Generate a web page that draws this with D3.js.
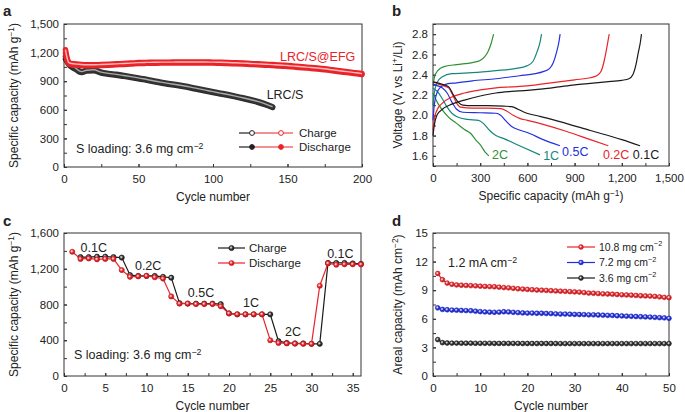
<!DOCTYPE html>
<html>
<head>
<meta charset="utf-8">
<script src="https://cdn.jsdelivr.net/npm/d3@7"></script>
<style>
  body { margin: 0; background: #fff; }
  text { font-family: "Liberation Sans", Arial, Helvetica, sans-serif; fill: #222; }
</style>
</head>
<body>
<svg id="fig" width="685" height="412"></svg>
<script>
// ---------- panel a : long cycling ----------
var cycEFG = [1,2,3,5,10,15,20,25,30,35,40,45,50,55,60,65,70,75,80,85,90,95,100,
              105,110,115,120,125,130,135,140,145,150,155,160,165,170,175,180,185,190,195,200];
var efgCharge = [1230,1150,1100,1085,1078,1072,1072,1075,1078,1082,1086,1090,1095,1097,1098,1100,1100,1101,1102,1102,1102,1101,1100,
                 1098,1096,1093,1090,1086,1082,1078,1074,1070,1064,1058,1052,1045,1038,1030,1020,1010,1000,990,980];
var efgDischarge = [1195,1120,1085,1072,1066,1062,1062,1065,1068,1072,1076,1080,1085,1087,1088,1090,1090,1091,1092,1092,1092,1091,1090,
                    1088,1086,1083,1080,1076,1072,1068,1064,1060,1054,1048,1042,1035,1028,1020,1010,1000,990,980,970];
var cycLRC = [1,2,3,5,8,10,12,15,20,25,30,35,40,45,50,55,60,65,70,75,80,85,90,95,100,105,110,115,120,125,130,135,140];
var lrcCharge = [1160,1130,1100,1065,1035,1010,1000,1015,1020,995,982,972,960,948,935,920,905,890,877,865,852,838,822,806,790,775,760,744,727,708,688,662,632];
var lrcDischarge = [1130,1105,1080,1050,1022,1000,992,1006,1010,986,973,963,951,939,926,911,896,881,868,856,843,829,813,797,781,766,751,735,718,699,679,653,624];

// ---------- panel b : voltage profiles [capacity, voltage] ----------
var rates = ["0.1C", "0.2C", "0.5C", "1C", "2C"];
var rateColors = ["#1a1a1a", "#e8242a", "#2330df", "#16877f", "#2f9134"];
var charge01 = [[0,1.80],[8,1.90],[25,2.00],[60,2.06],[120,2.11],[200,2.15],[300,2.19],[400,2.22],[500,2.235],[600,2.245],[700,2.26],[800,2.28],[900,2.30],[1000,2.315],[1100,2.33],[1200,2.345],[1245,2.36],[1270,2.40],[1290,2.50],[1305,2.62],[1318,2.72],[1325,2.80]];
var charge02 = [[0,1.85],[8,1.96],[25,2.05],[60,2.12],[120,2.18],[200,2.22],[300,2.25],[400,2.27],[500,2.28],[600,2.29],[700,2.31],[800,2.33],[900,2.35],[1000,2.37],[1040,2.39],[1070,2.44],[1090,2.55],[1105,2.67],[1120,2.80]];
var charge05 = [[0,1.95],[8,2.10],[25,2.22],[50,2.28],[90,2.31],[150,2.32],[250,2.34],[400,2.36],[550,2.39],[650,2.41],[700,2.43],[740,2.46],[765,2.52],[785,2.62],[800,2.72],[808,2.80]];
var charge1 = [[0,2.10],[8,2.22],[25,2.32],[60,2.38],[120,2.41],[250,2.42],[400,2.44],[520,2.46],[600,2.49],[635,2.53],[660,2.62],[680,2.72],[690,2.80]];
var charge2 = [[0,2.30],[10,2.38],[30,2.44],[70,2.48],[150,2.50],[250,2.52],[300,2.54],[330,2.58],[350,2.63],[370,2.71],[385,2.80]];
var discharge01 = [[0,2.33],[30,2.32],[70,2.30],[100,2.28],[130,2.20],[160,2.13],[190,2.10],[250,2.095],[350,2.095],[450,2.09],[500,2.085],[540,2.06],[580,2.03],[620,2.01],[680,1.99],[800,1.94],[1000,1.85],[1200,1.76],[1316,1.70]];
var discharge02 = [[0,2.33],[30,2.31],[70,2.29],[100,2.27],[125,2.20],[150,2.12],[175,2.08],[250,2.07],[350,2.07],[430,2.065],[470,2.04],[510,2.00],[550,1.97],[600,1.95],[700,1.91],[850,1.84],[1000,1.76],[1114,1.70]];
var discharge05 = [[0,2.31],[30,2.29],[60,2.27],[90,2.22],[120,2.13],[150,2.06],[190,2.03],[300,2.025],[400,2.02],[430,2.00],[460,1.95],[500,1.89],[540,1.86],[600,1.83],[700,1.76],[807,1.70]];
var discharge1 = [[0,2.27],[30,2.23],[60,2.16],[90,2.08],[120,2.02],[160,1.98],[220,1.96],[290,1.95],[320,1.92],[360,1.85],[400,1.80],[450,1.77],[550,1.70],[680,1.61]];
var discharge2 = [[0,2.22],[30,2.12],[60,2.05],[100,1.98],[150,1.92],[200,1.86],[240,1.82],[270,1.76],[300,1.71],[330,1.64],[355,1.60]];
var chargeCurves = [charge01, charge02, charge05, charge1, charge2];
var dischargeCurves = [discharge01, discharge02, discharge05, discharge1, discharge2];
// label anchor (capacity, voltage) for each rate
var rateLabelPos = [[1270,1.565],[1080,1.565],[820,1.595],[700,1.56],[375,1.565]];

// ---------- panel c : rate capability ----------
var cycC = d3.range(1, 37);
var rateCharge = [null,1330,1330,1335,1335,1330,1325,1130,1120,1120,1120,1110,1100,815,810,810,810,810,805,700,690,690,690,690,690,390,370,365,365,360,360,1265,1265,1265,1260,1255];
var rateDischarge = [1390,1310,1315,1305,1310,1310,1185,1110,1115,1120,1105,1090,890,810,810,805,805,805,780,700,690,690,690,690,400,370,365,362,360,360,1010,1260,1245,1250,1250,1248];
var rateSteps = ["0.1C","0.2C","0.5C","1C","2C","0.1C"];
var rateStepPos = [[2.0,1390],[8.6,1190],[15.0,885],[21.7,770],[26.8,445],[31.9,1320]];

// ---------- panel d : areal capacity ----------
var cycD = d3.range(1, 51);
var loadings = ["10.8 mg cm", "7.2 mg cm", "3.6 mg cm"];
var loadColors = ["#e8242a", "#2330df", "#1a1a1a"];
var areal108 = [10.75,10.10,9.75,9.62,9.55,9.52,9.50,9.48,9.46,9.42,9.40,9.38,9.36,9.32,9.28,9.25,9.20,9.15,9.12,9.08,
                9.05,9.02,9.00,8.98,8.95,8.92,8.90,8.88,8.85,8.82,8.80,8.75,8.70,8.68,8.65,8.62,8.60,8.58,8.55,8.52,
                8.50,8.48,8.45,8.42,8.40,8.38,8.35,8.30,8.25,8.22];
var areal72 = [7.15,6.98,6.95,6.92,6.90,6.88,6.86,6.85,6.80,6.75,6.72,6.70,6.68,6.70,6.74,6.72,6.68,6.65,6.62,6.60,
               6.60,6.58,6.58,6.56,6.55,6.52,6.50,6.50,6.48,6.46,6.45,6.44,6.42,6.42,6.40,6.38,6.36,6.35,6.32,6.30,
               6.28,6.26,6.24,6.22,6.20,6.18,6.15,6.12,6.10,6.05];
var areal36 = [3.82,3.50,3.46,3.45,3.45,3.44,3.44,3.44,3.43,3.43,3.43,3.43,3.42,3.42,3.42,3.42,3.42,3.42,3.41,3.41,
               3.41,3.41,3.41,3.41,3.41,3.41,3.40,3.40,3.40,3.40,3.40,3.40,3.40,3.40,3.40,3.40,3.40,3.40,3.40,3.40,
               3.40,3.40,3.40,3.40,3.40,3.40,3.40,3.40,3.40,3.40];
var arealSeries = [areal108, areal72, areal36];

var svg = d3.select("#fig");
var fs = 11.5;

// sphere-like markers
var defs = svg.append("defs");
function sphere(id, c) {
  var gr = defs.append("radialGradient").attr("id", id).attr("cx", "40%").attr("cy", "40%").attr("r", "60%");
  gr.append("stop").attr("offset", "0%").attr("stop-color", "#fff");
  gr.append("stop").attr("offset", "55%").attr("stop-color", c);
  gr.append("stop").attr("offset", "100%").attr("stop-color", d3.color(c).darker(0.8));
}
sphere("sRed", "#e8242a");
sphere("sBlue", "#2330df");
sphere("sBlack", "#333");
var sphereIds = { "#e8242a": "url(#sRed)", "#2330df": "url(#sBlue)", "#1a1a1a": "url(#sBlack)" };

// text with superscripts: parts = [[str, isSup], ...]
function rich(sel, parts) {
  parts.forEach(function (p) {
    if (p[1]) sel.append("tspan").attr("dy", -4.5).attr("font-size", "0.7em").text(p[0]);
    else sel.append("tspan").attr("dy", p[2] || 0).text(p[0]);
  });
  return sel;
}

function panel(box, xd, yd, xt, xm, yt, ym, xf, yf) {
  var w = box.r - box.l, h = box.b - box.t;
  var g = svg.append("g").attr("transform", "translate(" + box.l + "," + box.t + ")");
  var x = d3.scaleLinear().domain(xd).range([0, w]);
  var y = d3.scaleLinear().domain(yd).range([h, 0]);
  var ax = g.append("g").attr("transform", "translate(0," + h + ")")
    .call(d3.axisBottom(x).tickValues(xm).tickSize(-3).tickFormat(""));
  var ax2 = g.append("g").attr("transform", "translate(0," + h + ")")
    .call(d3.axisBottom(x).tickValues(xt).tickSize(-3).tickPadding(6).tickFormat(xf));
  var ay = g.append("g").call(d3.axisLeft(y).tickValues(ym).tickSize(-3).tickFormat(""));
  var ay2 = g.append("g").call(d3.axisLeft(y).tickValues(yt).tickSize(-3).tickPadding(5).tickFormat(yf));
  [ax, ax2, ay, ay2].forEach(function (a) {
    a.select(".domain").remove();
    a.selectAll("line").attr("stroke", "#333");
    a.selectAll("text").attr("font-size", fs).style("font-family", "Liberation Sans, Arial, sans-serif").attr("fill", "#222");
  });
  ax2.selectAll("text").attr("dy", "0.85em");
  g.append("rect").attr("width", w).attr("height", h).attr("fill", "none").attr("stroke", "#333").attr("stroke-width", 1);
  return { g: g, x: x, y: y, w: w, h: h };
}

function letter(t, px, py) {
  svg.append("text").attr("x", px).attr("y", py).attr("font-size", 15).attr("font-weight", "bold").attr("fill", "#111").text(t);
}
function ylab(p, dx, parts) {
  var t = p.g.append("text").attr("transform", "translate(" + dx + "," + (p.h / 2) + ") rotate(-90)")
    .attr("text-anchor", "middle").attr("font-size", fs + 0.5);
  rich(t, parts);
}
function xlab(p, dy, parts) {
  var t = p.g.append("text").attr("x", p.w / 2).attr("y", p.h + dy).attr("text-anchor", "middle").attr("font-size", fs + 0.5);
  rich(t, parts);
}
var comma = d3.format(",");

// ===== panel a =====
var pa = panel({ l: 64, t: 24, r: 362, b: 167 }, [0, 200], [0, 1500],
  [0, 50, 100, 150, 200], d3.range(0, 201, 25), d3.range(0, 1501, 300), d3.range(0, 1501, 150), comma, comma);
letter("a", 3, 16);
ylab(pa, -46, [["Specific capacity (mAh g"], ["\u22121", true], [")", false, 4.5]]);
xlab(pa, 34, [["Cycle number"]]);

function band(p, xs, ys, c, light) {
  var line = d3.line().x(function (d, i) { return p.x(xs[i]); }).y(function (d) { return p.y(d); }).curve(d3.curveMonotoneX);
  p.g.append("path").attr("d", line(ys)).attr("fill", "none").attr("stroke", c).attr("stroke-width", 5.5).attr("stroke-linecap", "round");
  p.g.append("path").attr("d", line(ys)).attr("fill", "none").attr("stroke", light).attr("stroke-width", 1.4);
}
band(pa, cycLRC, lrcDischarge, "#2a2a2a", "#777");
band(pa, cycLRC, lrcCharge, "#333", "#aaa");
band(pa, cycEFG, efgDischarge, "#e8242a", "#f58a8a");
band(pa, cycEFG, efgCharge, "#e8242a", "#fbb");

pa.g.append("text").attr("x", pa.x(145)).attr("y", pa.y(1112)).attr("font-size", 12.5).style("fill", "#e8242a").text("LRC/S@EFG");
pa.g.append("text").attr("x", pa.x(136)).attr("y", pa.y(752) + 4).attr("font-size", 12.5).text("LRC/S");
rich(pa.g.append("text").attr("x", 12).attr("y", pa.h - 14).attr("font-size", 12.5),
  [["S loading: 3.6 mg cm"], ["\u22122", true]]);

// legend a
[["Charge", "#fff"], ["Discharge", null]].forEach(function (row, i) {
  var ly = 109 + i * 14, lx = 175;
  var lg = pa.g.append("g");
  lg.append("line").attr("x1", lx).attr("x2", lx + 16).attr("y1", ly).attr("y2", ly).attr("stroke", "#222").attr("stroke-width", 1.2);
  lg.append("line").attr("x1", lx + 16).attr("x2", lx + 54).attr("y1", ly).attr("y2", ly).attr("stroke", "#e8242a").attr("stroke-width", 1.2);
  lg.append("circle").attr("cx", lx + 13).attr("cy", ly).attr("r", 2.4).attr("fill", row[1] || "#222").attr("stroke", "#222");
  lg.append("circle").attr("cx", lx + 42).attr("cy", ly).attr("r", 2.4).attr("fill", row[1] || "#e8242a").attr("stroke", "#e8242a");
  lg.append("text").attr("x", lx + 60).attr("y", ly + 4).attr("font-size", 11.5).text(row[0]);
});

// ===== panel b =====
var pb = panel({ l: 433, t: 24, r: 669, b: 166 }, [0, 1500], [1.5, 2.9],
  d3.range(0, 1501, 300), d3.range(0, 1501, 150), [1.6, 1.8, 2.0, 2.2, 2.4, 2.6, 2.8], d3.range(15, 30).map(function (v) { return v / 10; }),
  comma, d3.format(".1f"));
letter("b", 392, 16);
ylab(pb, -31, [["Voltage (V, vs Li"], ["+", true], ["/Li)", false, 4.5]]);
xlab(pb, 34, [["Specific capacity (mAh g"], ["\u22121", true], [")", false, 4.5]]);
var vline = d3.line().x(function (d) { return pb.x(d[0]); }).y(function (d) { return pb.y(d[1]); }).curve(d3.curveMonotoneX);
for (var k = rates.length - 1; k >= 0; k--) {
  pb.g.append("path").attr("d", vline(chargeCurves[k])).attr("fill", "none").attr("stroke", rateColors[k]).attr("stroke-width", 1.2);
  pb.g.append("path").attr("d", vline(dischargeCurves[k])).attr("fill", "none").attr("stroke", rateColors[k]).attr("stroke-width", 1.2);
  pb.g.append("text").attr("x", pb.x(rateLabelPos[k][0])).attr("y", pb.y(rateLabelPos[k][1]))
    .attr("font-size", 12.5).style("fill", rateColors[k]).text(rates[k]);
}

// ===== panel c =====
var pc = panel({ l: 64, t: 233, r: 361, b: 376 }, [0, 36], [0, 1600],
  d3.range(0, 36, 5), d3.range(0, 36, 2.5), d3.range(0, 1601, 400), d3.range(0, 1601, 200), d3.format("d"), comma);
letter("c", 3, 226);
ylab(pc, -46, [["Specific capacity (mAh g"], ["\u22121", true], [")", false, 4.5]]);
xlab(pc, 34, [["Cycle number"]]);
function dotted(p, xs, ys, c, fill, r) {
  var line = d3.line().defined(function (d) { return d != null; })
    .x(function (d, i) { return p.x(xs[i]); }).y(function (d) { return p.y(d); });
  p.g.append("path").attr("d", line(ys)).attr("fill", "none").attr("stroke", c).attr("stroke-width", 1.2);
  p.g.selectAll(null).data(ys.map(function (v, i) { return [xs[i], v]; }).filter(function (d) { return d[1] != null; }))
    .enter().append("circle")
    .attr("cx", function (d) { return p.x(d[0]); }).attr("cy", function (d) { return p.y(d[1]); })
    .attr("r", r).attr("fill", fill).attr("stroke", d3.color(c).darker(0.5)).attr("stroke-width", 0.6);
}
dotted(pc, cycC, rateCharge, "#1a1a1a", "url(#sBlack)", 2.6);
dotted(pc, cycC, rateDischarge, "#e8242a", "url(#sRed)", 2.6);
rateSteps.forEach(function (s, i) {
  pc.g.append("text").attr("x", pc.x(rateStepPos[i][0])).attr("y", pc.y(rateStepPos[i][1])).attr("font-size", 12.5).text(s);
});
rich(pc.g.append("text").attr("x", 10).attr("y", pc.h - 17).attr("font-size", 12.5),
  [["S loading: 3.6 mg cm"], ["\u22122", true]]);
[["Charge", "#1a1a1a", "url(#sBlack)"], ["Discharge", "#e8242a", "url(#sRed)"]].forEach(function (row, i) {
  var ly = 15 + i * 15, lx = 154;
  pc.g.append("line").attr("x1", lx).attr("x2", lx + 27).attr("y1", ly).attr("y2", ly).attr("stroke", row[1]).attr("stroke-width", 1.2);
  pc.g.append("circle").attr("cx", lx + 13.5).attr("cy", ly).attr("r", 2.6).attr("fill", row[2]).attr("stroke", row[1]).attr("stroke-width", 0.6);
  pc.g.append("text").attr("x", lx + 31).attr("y", ly + 4).attr("font-size", 11.5).text(row[0]);
});

// ===== panel d =====
var pd = panel({ l: 433, t: 233, r: 669, b: 376 }, [0, 50], [0, 15],
  d3.range(0, 51, 10), d3.range(0, 51, 5), d3.range(0, 16, 3), d3.range(0, 15.1, 1.5), d3.format("d"), d3.format("d"));
letter("d", 392, 226);
ylab(pd, -31, [["Areal capacity (mAh cm"], ["\u22122", true], [")", false, 4.5]]);
xlab(pd, 34, [["Cycle number"]]);
for (var j = arealSeries.length - 1; j >= 0; j--) {
  dotted(pd, cycD, arealSeries[j], loadColors[j], sphereIds[loadColors[j]], 2.4);
}
loadings.forEach(function (s, i) {
  var ly = 14 + i * 15.5, lx = 134;
  pd.g.append("line").attr("x1", lx).attr("x2", lx + 28).attr("y1", ly).attr("y2", ly).attr("stroke", loadColors[i]).attr("stroke-width", 1.2);
  pd.g.append("circle").attr("cx", lx + 14).attr("cy", ly).attr("r", 2.4).attr("fill", sphereIds[loadColors[i]]).attr("stroke", loadColors[i]).attr("stroke-width", 0.6);
  rich(pd.g.append("text").attr("x", lx + 32).attr("y", ly + 3.5).attr("font-size", 10.5), [[s], ["\u22122", true]]);
});
rich(pd.g.append("text").attr("x", 15).attr("y", 34).attr("font-size", 12.5), [["1.2 mA cm"], ["\u22122", true]]);
</script>
</body>
</html>
